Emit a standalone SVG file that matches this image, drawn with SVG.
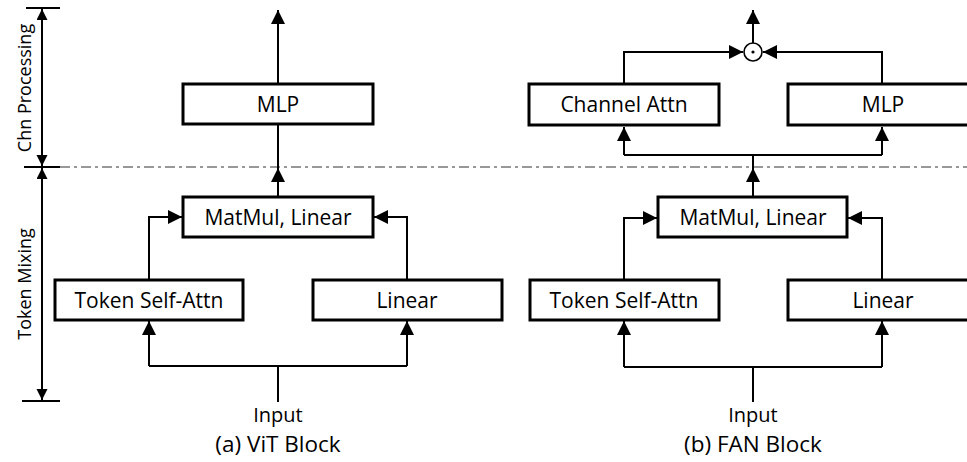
<svg xmlns="http://www.w3.org/2000/svg" width="967" height="462" viewBox="0 0 967 462">
<style>
.box{fill:#fff;stroke:#000;stroke-width:3}
.t{font-family:"Open Sans","Liberation Sans",sans-serif;font-size:21px;fill:#000;text-anchor:middle}
.cap{font-size:22.5px}
.inp{font-size:20px}
.side{font-size:18px}
.c{fill:none;stroke:#000;stroke-width:2}
.a{marker-end:url(#ah)}
.ax{fill:none;stroke:#000;stroke-width:2}
.dash{fill:none;stroke:#777;stroke-width:1.5;stroke-dasharray:10 4 3 4}
</style>
<defs>
<marker id="ah" markerUnits="userSpaceOnUse" markerWidth="16" markerHeight="16" refX="14" refY="7" orient="auto">
<path d="M0,0 L14,7 L0,14 z" fill="#000"/>
</marker>
<marker id="as" markerUnits="userSpaceOnUse" markerWidth="14" markerHeight="14" refX="11" refY="5.5" orient="auto-start-reverse">
<path d="M0,0 L11,5.5 L0,11 z" fill="#000"/>
</marker>
</defs>

<g id="axis">
<line class="dash" x1="60" y1="167" x2="967" y2="167"/>
<line class="ax" x1="26" y1="8" x2="60" y2="8"/>
<line class="ax" x1="24" y1="167" x2="60" y2="167"/>
<line class="ax" x1="22" y1="401" x2="60" y2="401"/>
<line class="ax" x1="42" y1="9" x2="42" y2="166" marker-start="url(#as)" marker-end="url(#as)"/>
<line class="ax" x1="42" y1="168" x2="42" y2="400" marker-start="url(#as)" marker-end="url(#as)"/>
<text class="t side" transform="translate(31,88) rotate(-90)">Chn Processing</text>
<text class="t side" transform="translate(31,284) rotate(-90)">Token Mixing</text>
</g>

<g id="connectors">
<!-- ViT -->
<path class="c a" d="M278,84 V10"/>
<path class="c a" d="M278,197 V168"/>
<path class="c" d="M278,168 V124"/>
<path class="c a" d="M149,280 V217 H182"/>
<path class="c a" d="M407,280 V217 H374"/>
<path class="c" d="M278,402 V366 M149,366 H407"/>
<path class="c a" d="M149,366 V321"/>
<path class="c a" d="M407,366 V321"/>
<!-- FAN -->
<path class="c a" d="M753,43 V10"/>
<path class="c a" d="M624,84 V52 H743"/>
<path class="c a" d="M882,84 V52 H763"/>
<path class="c a" d="M753,197 V168"/>
<path class="c" d="M753,168 V155 M624,155 H882"/>
<path class="c a" d="M624,155 V127"/>
<path class="c a" d="M882,155 V127"/>
<path class="c a" d="M624,280 V218 H657"/>
<path class="c a" d="M882,280 V218 H848"/>
<path class="c" d="M753,402 V367 M624,367 H882"/>
<path class="c a" d="M624,367 V321"/>
<path class="c a" d="M882,367 V321"/>
</g>

<g id="vit-mlp"><rect class="box" x="183" y="84" width="190" height="40"/><text class="t" x="278" y="112">MLP</text></g>
<g id="vit-matmul"><rect class="box" x="183" y="197" width="190" height="40"/><text class="t" x="278" y="225">MatMul, Linear</text></g>
<g id="vit-tsa"><rect class="box" x="55" y="280" width="188" height="40"/><text class="t" x="149" y="308">Token Self-Attn</text></g>
<g id="vit-linear"><rect class="box" x="313" y="280" width="189" height="40"/><text class="t" x="407" y="308">Linear</text></g>
<g id="vit-input"><text class="t inp" x="278" y="422">Input</text></g>
<g id="vit-caption"><text class="t cap" x="278" y="452">(a) ViT Block</text></g>

<g id="fan-odot"><circle cx="753" cy="52" r="9" fill="#fff" stroke="#000" stroke-width="1.6"/><circle cx="753" cy="52" r="1.6" fill="#000"/></g>
<g id="fan-chattn"><rect class="box" x="529" y="84" width="190" height="41"/><text class="t" x="624" y="112">Channel Attn</text></g>
<g id="fan-mlp"><rect class="box" x="788" y="84" width="190" height="41"/><text class="t" x="883" y="112">MLP</text></g>
<g id="fan-matmul"><rect class="box" x="658" y="197" width="189" height="40"/><text class="t" x="753" y="225">MatMul, Linear</text></g>
<g id="fan-tsa"><rect class="box" x="530" y="280" width="189" height="40"/><text class="t" x="624" y="308">Token Self-Attn</text></g>
<g id="fan-linear"><rect class="box" x="788" y="280" width="190" height="40"/><text class="t" x="883" y="308">Linear</text></g>
<g id="fan-input"><text class="t inp" x="753" y="422">Input</text></g>
<g id="fan-caption"><text class="t cap" x="753" y="452">(b) FAN Block</text></g>
</svg>
